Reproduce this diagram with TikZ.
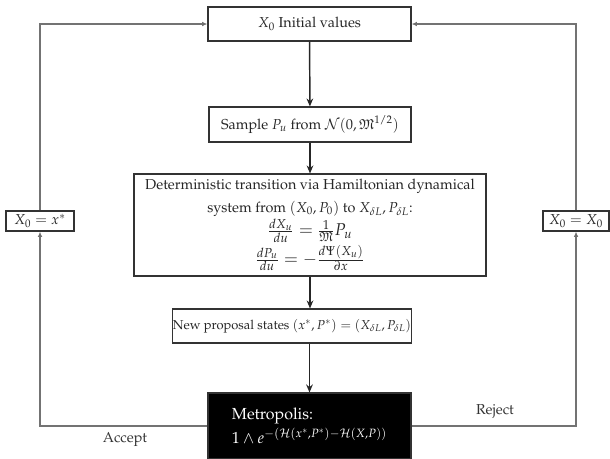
\documentclass[tikz,border=0pt]{standalone}
\usepackage[T1]{fontenc}
\usepackage{mathpazo}
\usepackage{amssymb}
\usetikzlibrary{arrows.meta}
\newcommand{\eqsize}{\fontsize{12.8}{14}\selectfont}
\begin{document}
\begin{tikzpicture}[x=0.75pt,y=-0.75pt,
  font=\fontsize{10.8}{13}\selectfont,
  box/.style={draw=black!80, line width=0.8pt, fill=white, inner sep=0pt, align=center, text=black!85},
  mainarr/.style={draw=black!85, line width=1.1pt, -{Stealth[length=6pt,width=5pt]}},
  looparr/.style={draw=black!55, line width=0.8pt, -{Latex[length=4pt,width=3.5pt,fill=black!80]}},
  lbl/.style={inner sep=0pt, text=black!80}
]
\useasboundingbox (0,0) rectangle (610,458);
\node[box, minimum width=152.25pt, minimum height=25.5pt] (init) at (309.5,24) {$X_0$ Initial values};
\node[box, minimum width=151.5pt, minimum height=26.25pt] (sample) at (310,124.5) {Sample $P_u$ from $\mathcal{N}(0,\mathfrak{M}^{1/2})$};
\node[box, minimum width=264pt, minimum height=76.5pt] (det) at (310,225) {Deterministic transition via Hamiltonian dynamical\\[4pt]
system from $(X_0,P_0)$ to $X_{\delta L},P_{\delta L}$:\\[1pt]
{\eqsize$\frac{dX_u}{du}=\frac{1}{\mathfrak{M}}P_u$}\\[1.5pt]
{\eqsize$\frac{dP_u}{du}=-\frac{d\Psi(X_u)}{\partial x}$}};
\node[box, font=\fontsize{9.7}{12}\selectfont, minimum width=178.5pt, minimum height=25.5pt] (prop) at (292,326) {New proposal states $(x^*,P^*)=(X_{\delta L},P_{\delta L})$};
\node[box, fill=black, text=white, align=left, font=\fontsize{12}{15.75}\selectfont, minimum width=152.25pt, minimum height=49.5pt] (metro) at (309.5,426) {Metropolis:\\[2pt] $1\wedge e^{-(\mathcal{H}(x^*,P^*)-\mathcal{H}(X,P))}$};
\node[box, minimum width=51pt, minimum height=15pt] (lbox) at (40,221) {$X_0=x^*$};
\node[box, minimum width=49.5pt, minimum height=15pt] (rbox) at (576,221) {$X_0=X_0$};
\node[lbl] (acc) at (125,440) {Accept};
\node[lbl] (rej) at (495,412) {Reject};
\draw[mainarr] (init) -- (sample);
\draw[mainarr] (sample) -- (det);
\draw[mainarr] (det.south) -- (det.south |- prop.north);
\draw[mainarr] (prop.south -| metro.north) -- (metro.north);
\draw[looparr] (metro.west) -| (lbox.south);
\draw[looparr] (lbox.north) |- (init.west);
\draw[looparr] (metro.east) -| (rbox.south);
\draw[looparr] (rbox.north) |- (init.east);
\end{tikzpicture}
\end{document}
